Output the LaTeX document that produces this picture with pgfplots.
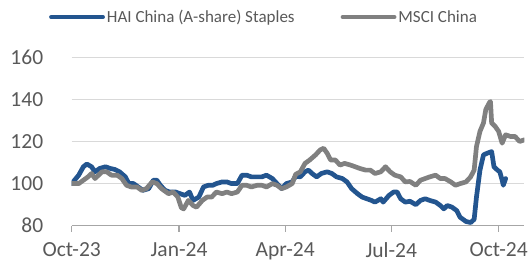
\documentclass[border=0pt]{standalone}
\usepackage{pgfplots}
\pgfplotsset{compat=1.18}
\usepackage{fontspec}
\setmainfont{Carlito}
\definecolor{haiblue}{HTML}{23558F}
\definecolor{mscigray}{HTML}{808080}
\definecolor{labelgray}{HTML}{595959}
\definecolor{gridgray}{HTML}{D9D9D9}
\definecolor{axisgray}{HTML}{A6A6A6}
\begin{document}
\begin{tikzpicture}
\begin{axis}[
  name=ax,
  scale only axis,
  width=452.6pt, height=168.4pt,
  xmin=0, xmax=388, ymin=80, ymax=160,
  enlargelimits=false,
  axis x line*=bottom, axis y line*=left,
  y axis line style={draw=none},
  x axis line style={draw=axisgray, line width=1.1pt},
  xtick={0,92,183,274,366},
  xticklabels={Oct-23,Jan-24,Apr-24,Jul-24,Oct-24},
  ytick={80,100,120,140,160},
  tick align=outside,
  major tick length=6pt,
  xtick style={draw=axisgray, line width=1.1pt},
  ytick style={draw=none},
  ymajorgrids,
  major grid style={draw=gridgray, line width=1pt},
  ticklabel style={font=\fontsize{21.5}{25}\selectfont, text=labelgray},
  /pgf/number format/assume math mode=true,
  yticklabel style={xshift=-19pt},
  xticklabel style={yshift=-9.5pt, inner ysep=1pt},
  legend columns=2,
  legend cell align=left,
  legend style={draw=none, fill=none, at={(0.425,1.239)}, anchor=center,
    font=\fontsize{17}{20}\selectfont, text=labelgray,
    /tikz/every even column/.append style={column sep=44pt}},
  legend image code/.code={\draw[#1, line width=3.8pt] (0pt,0pt) -- (52pt,0pt);},
]
\addplot[haiblue, line width=4.7pt, line join=round, line cap=round] table {
x y
0 100
6 104
10 108
13 109.3
17 108
20 105.6
24 107.2
29 108
33 107.2
37 106.7
41 105.6
46 103.2
49 100
53 100
57 98.4
61 96.8
66 97.6
70 101.6
73 101.6
76 99.2
80 96.8
84 96
89 96
93 95.2
97 94.4
101 96
104 92
109 93.6
113 98.4
117 99.2
121 99.2
124 100
129 100.8
133 100.8
137 100
142 100
146 104
150 104
154 103.2
159 103.2
163 103.2
167 104
172 102.4
176 100
180 97.6
184 100
189 100.8
192 103.5
196 103.2
200 105.6
203 106.4
206 104.8
210 103.2
214 104.8
219 105.6
223 104.8
227 103.2
232 102.4
236 100.8
240 97.6
245 95.2
249 93.6
253 92.8
257 92
260 91.2
265 92.8
267 91.2
272 94.4
276 96
279 96
282 92.8
286 91.2
290 91.6
295 90
299 92
303 92.8
307 92
312 91.2
316 89.6
319 88
322 89.6
326 88.8
330 87.2
333 84
338 82
342 81.5
345 83
347 93.6
350 106.4
353 113.6
356 114.4
360 115.2
362 108
365 106.4
367 105.6
369 101.6
370 99.2
372 102.4
};
\addlegendentry{HAI China (A-share) Staples}
\addplot[mscigray, line width=4.7pt, line join=round, line cap=round] table {
x y
0 100
6 100
10 101.6
14 103.2
17 104.8
20 102.4
23 104
26 105.6
30 105.6
34 104
39 104
43 102.4
47 99.2
51 98.4
56 98.4
60 96.8
64 97.6
69 100.8
73 100
77 97.6
83 95.2
87 96
91 93.6
94 88.5
96 88
100 92
104 89.6
107 88.8
112 92
116 93.6
120 93.6
124 96
129 95.2
133 96
137 95.2
142 96
146 99.2
150 99.2
154 98.4
159 99.2
163 99.2
167 98.4
172 100
176 99.2
180 97.6
184 98.4
189 100
192 104.4
196 105.6
200 109.6
204 111.2
209 113.6
213 116
216 116.8
219 114.4
222 111.2
226 111.2
230 108.8
234 109.6
239 108.8
243 108
247 107.2
252 106.4
256 106.4
260 104.8
265 105.6
269 108
273 105.6
277 104
282 103.2
286 100.8
290 101
295 99.2
299 101.6
303 102.4
307 103.2
312 104
316 102.4
320 102.4
325 100.8
329 99.2
333 100
338 100.8
342 103.2
345 106.4
347 117.6
350 124.8
353 128.8
355 135.2
358 138.4
359 139
360 128.8
363 127.2
366 124.8
369 119.2
372 123.2
376 122.4
380 122.4
384 120
388 120.8
};
\addlegendentry{MSCI China}
\end{axis}
\pgfresetboundingbox
\path[use as bounding box] ([xshift=-71.7pt,yshift=-38.3pt]ax.south west) rectangle ++(531pt,264pt);
\end{tikzpicture}
\end{document}
